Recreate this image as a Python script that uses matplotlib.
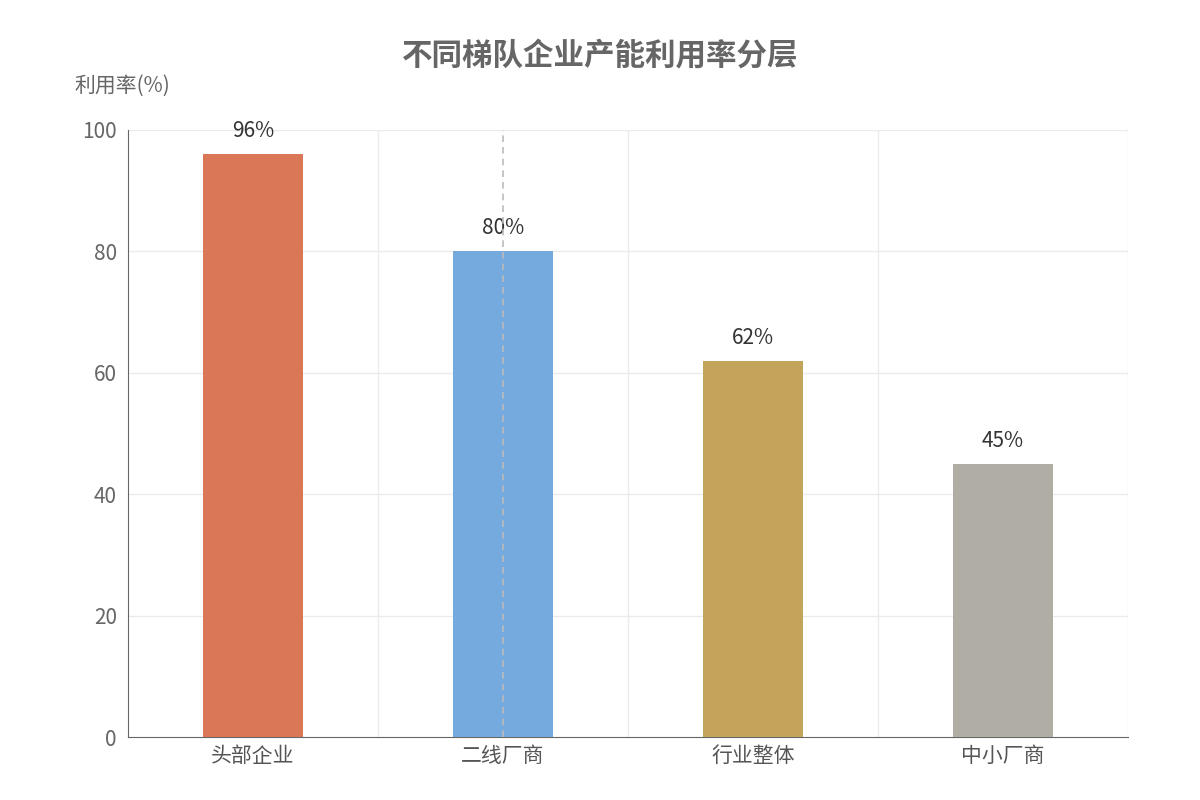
import matplotlib
matplotlib.use("Agg")
import matplotlib.pyplot as plt

plt.rcParams['font.family'] = ['Noto Sans CJK SC', 'DejaVu Sans']

categories = ["头部企业", "二线厂商", "行业整体", "中小厂商"]
values = [96, 80, 62, 45]
colors = ["#D97757", "#75AADF", "#C4A35A", "#B0ADA5"]
yticks = [0, 20, 40, 60, 80, 100]

fig = plt.figure(figsize=(12, 8), dpi=100)
ax = fig.add_axes([128/1200, 63/800, 1000/1200, 607/800])
x = list(range(len(categories)))
ax.bar(x, values, width=0.4, color=colors, zorder=3)
for xi, v in zip(x, values):
    ax.text(xi, v + 2, f"{v}%", ha="center", va="bottom", fontsize=15, color="#333333", zorder=4)

ax.set_xlim(-0.5, len(categories) - 0.5)
ax.set_ylim(0, 100)
ax.set_yticks(yticks)
ax.set_yticklabels([str(t) for t in yticks], fontsize=15, color="#666666")
ax.set_xticks(x)
ax.set_xticklabels(categories, fontsize=15, color="#555555")
ax.tick_params(axis='both', length=0, pad=8)
ax.tick_params(axis='x', pad=6)

for t in yticks[1:]:
    ax.axhline(t, color="#EBEBEB", lw=1, zorder=1)
for b in [0.5, 1.5, 2.5, 3.5]:
    ax.axvline(b, color="#EBEBEB", lw=1, zorder=1)
ax.axvline(1, color="#BBBBBB", lw=1.2, ls=(0, (4, 3)), zorder=5)

for s in ['top', 'right']:
    ax.spines[s].set_visible(False)
ax.spines['left'].set_color("#666666")
ax.spines['bottom'].set_color("#666666")

fig.text(128/1200 - 0.005, 1 - 86/800, "利用率(%)", ha="center", va="center", fontsize=15, color="#666666")
fig.text(0.5, 1 - 55/800, "不同梯队企业产能利用率分层", ha="center", va="center",
         fontsize=22, fontweight="bold", color="#666666")

fig.savefig("out.png", dpi=100)
